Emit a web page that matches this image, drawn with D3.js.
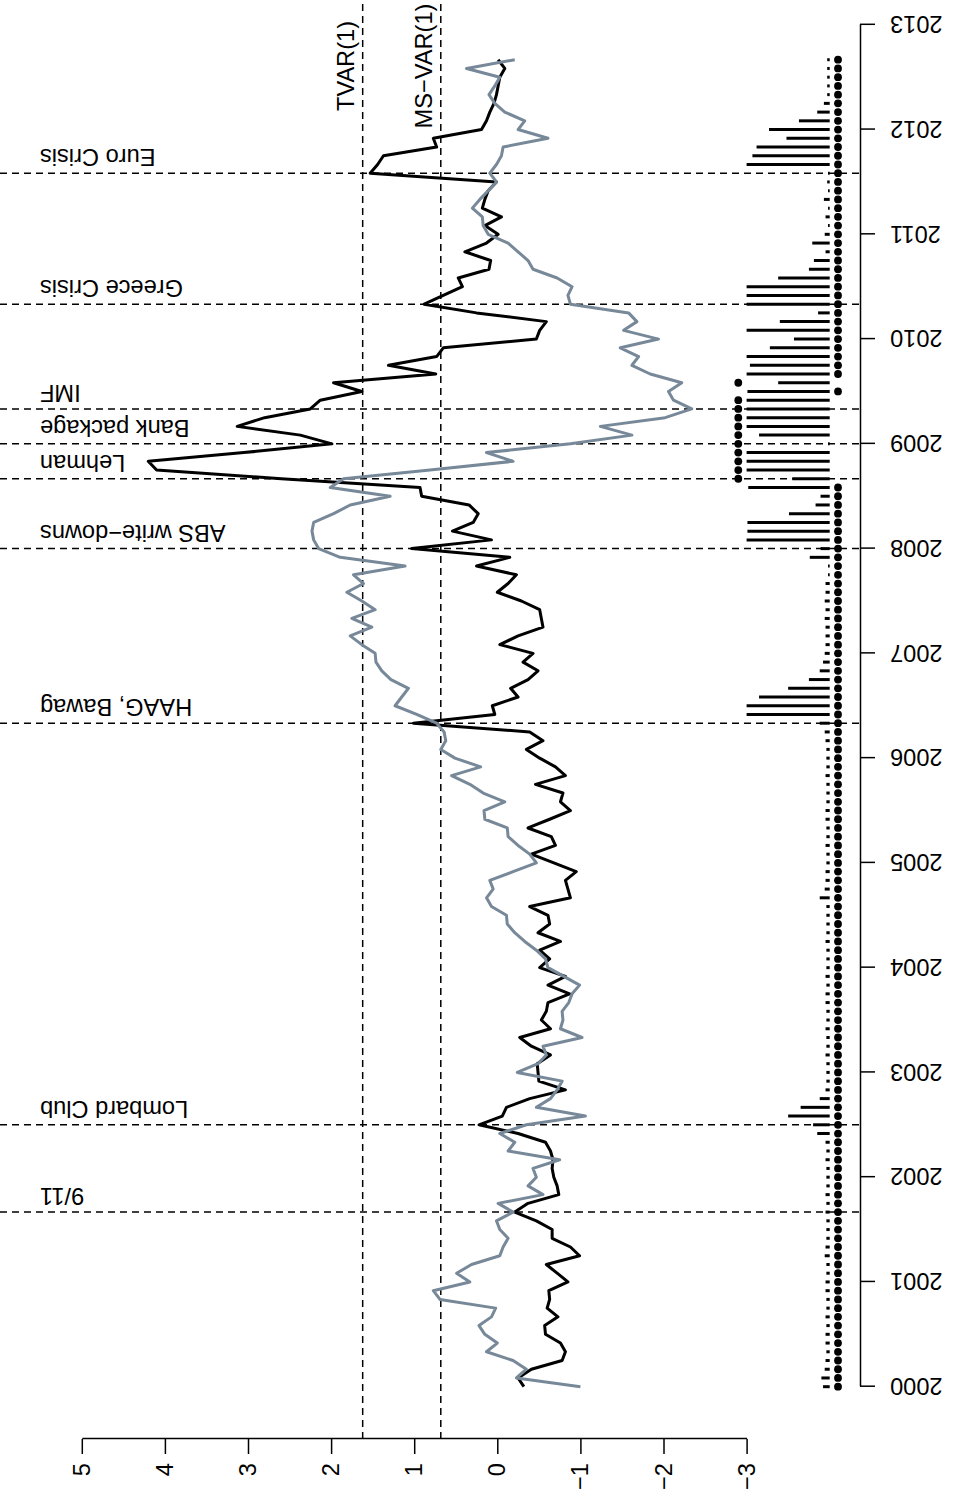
<!DOCTYPE html>
<html>
<head>
<meta charset="utf-8">
<script src="https://cdn.jsdelivr.net/npm/d3@7"></script>
<style>
  body { margin: 0; background: #fff; }
  svg text { font-family: "Liberation Sans", Arial, Helvetica, sans-serif; fill: #000; }
</style>
</head>
<body>
<svg id="chart" width="953" height="1498"></svg>
<script>
// Monthly series, January 2000 to September 2012
const startYear = 2000;

const tvar = [
  -0.32,-0.25,-0.41,-0.78,-0.82,-0.76,-0.58,-0.57,-0.73,-0.60,
  -0.63,-0.62,-0.85,-0.72,-0.59,-0.99,-0.88,-0.66,-0.66,-0.47,
  -0.21,-0.37,-0.74,-0.72,-0.68,-0.66,-0.67,-0.64,-0.58,-0.25,
   0.22,-0.06,-0.11,-0.39,-0.82,-0.50,-0.49,-0.48,-0.64,-0.41,
  -0.27,-0.64,-0.53,-0.59,-0.61,-0.87,-0.61,-0.82,-0.51,-0.63,
  -0.51,-0.76,-0.49,-0.63,-0.61,-0.39,-0.88,-0.85,-0.82,-0.95,
  -0.68,-0.41,-0.70,-0.65,-0.37,-0.63,-0.88,-0.76,-0.79,-0.46,
  -0.82,-0.70,-0.51,-0.35,-0.55,-0.39, 1.01, 0.03, 0.06,-0.25,
  -0.16,-0.37,-0.49,-0.31,-0.43,-0.03,-0.25,-0.55,-0.53,-0.51,
  -0.29, 0.00,-0.13,-0.23, 0.25,-0.15, 1.03, 0.07, 0.54, 0.29,
   0.23, 0.34, 0.91, 0.93, 2.60, 4.10, 4.20, 3.05, 1.99, 2.37,
   3.13, 2.80, 2.25, 2.13, 1.63, 1.97, 0.74, 1.31, 0.73, 0.65,
  -0.47,-0.51,-0.59, 0.25, 0.88, 0.65, 0.42, 0.47, 0.10, 0.08,
   0.39, 0.13,-0.01, 0.15,-0.05, 0.18, 0.15, 0.11, 0.01, 1.53,
   1.44, 1.37, 0.73, 0.77, 0.19, 0.13, 0.09, 0.04, 0.01,-0.01,
  -0.03,-0.09,-0.01
];

const msvar = [
  -1.00,-0.23,-0.35,-0.19, 0.13, 0.00, 0.15, 0.22, 0.07, 0.02,
   0.69, 0.77, 0.33, 0.49, 0.31,-0.03,-0.07,-0.13,-0.03, 0.01,
  -0.19,-0.01,-0.55,-0.37,-0.47,-0.43,-0.75,-0.13,-0.21,-0.03,
  -0.35,-1.06,-0.47,-0.64,-0.72,-0.78,-0.24,-0.49,-0.59,-0.55,
  -1.02,-0.76,-0.79,-0.78,-0.86,-0.90,-0.99,-0.80,-0.61,-0.58,
  -0.47,-0.33,-0.21,-0.12,-0.11, 0.07, 0.13, 0.05, 0.09,-0.19,
  -0.47,-0.39,-0.25,-0.13,-0.12, 0.15, 0.16,-0.09, 0.17, 0.33,
   0.55, 0.20, 0.51, 0.68, 0.62, 0.64, 0.73, 0.97, 1.23, 1.15,
   1.07, 1.28, 1.39, 1.46, 1.47, 1.63, 1.77, 1.51, 1.75, 1.47,
   1.63, 1.81, 1.61, 1.73, 1.11, 1.89, 2.15, 2.21, 2.23, 2.21,
   1.97, 1.77, 1.29, 2.01, 1.85, 0.81,-0.19, 0.13,-0.88,-1.62,
  -1.24,-2.02,-2.34,-2.12,-2.06,-2.22,-1.84,-1.62,-1.70,-1.48,
  -1.94,-1.52,-1.68,-1.58,-0.88,-0.85,-0.90,-0.72,-0.43,-0.37,
  -0.25,-0.13, 0.11, 0.17, 0.18, 0.30, 0.21, 0.11, 0.01, 0.09,
   0.01,-0.05,-0.07,-0.61,-0.25,-0.33,-0.09, 0.03, 0.10, 0.03,
  -0.03, 0.37,-0.21
];

// Probability of the crisis regime (drawn as spikes below the series)
const crisisProb = [
  0.08,0.10,0.06,0.05,0.04,0.05,0.05,0.04,0.05,0.04,
  0.04,0.05,0.05,0.04,0.04,0.06,0.05,0.04,0.04,0.04,
  0.05,0.04,0.05,0.04,0.04,0.04,0.05,0.04,0.05,0.15,
  0.20,0.50,0.35,0.12,0.05,0.04,0.04,0.04,0.05,0.04,
  0.04,0.05,0.04,0.04,0.05,0.05,0.04,0.05,0.04,0.04,
  0.04,0.05,0.04,0.04,0.04,0.04,0.12,0.06,0.05,0.05,
  0.04,0.04,0.05,0.04,0.04,0.05,0.05,0.04,0.04,0.04,
  0.05,0.04,0.04,0.04,0.05,0.06,0.12,1.00,1.00,0.85,
  0.50,0.25,0.12,0.08,0.06,0.05,0.05,0.05,0.06,0.05,
  0.06,0.05,0.05,0.02,0.02,0.24,0.11,1.00,0.99,0.99,
  0.49,0.17,0.11,0.98,0.45,1.00,1.00,1.00,0.02,0.85,
  1.00,1.00,1.00,1.00,0.99,0.62,1.00,0.96,1.00,0.72,
  0.43,1.00,0.60,0.14,1.00,1.00,1.00,0.62,0.25,0.19,
  0.05,0.21,0.06,0.02,0.05,0.02,0.07,0.02,0.03,0.02,
  1.00,0.93,0.88,0.52,0.73,0.37,0.15,0.07,0.03,0.03,
  0.03,0.03,0.03
];

// Classified regime per month (1 = crisis)
const regime = tvar.map((_, i) => ((i >= 104 && i <= 113) || i === 115) ? 1 : 0);

// Event markers (month index since January 2000)
const eventLabels = ["9/11", "Lombard Club", "HAAG, Bawag", "ABS write\u2212downs",
                     "Lehman", "Bank package", "IMF", "Greece Crisis", "Euro Crisis"];
const eventMonths = [20, 30, 76, 96, 104, 108, 112, 124, 139];

// Threshold lines
const thresholdLabels = ["TVAR(1)", "MS\u2212VAR(1)"];
const thresholdValues = [1.62, 0.68];

const yearTicks = d3.range(2000, 2014);
const valueTicks = d3.range(-3, 6);

// ---------------------------------------------------------------
// The chart is laid out landscape (time across, value up) and the
// whole drawing is turned a quarter turn counter-clockwise.
const W = 1498, H = 953;
const svg = d3.select("#chart");
const g = svg.append("g").attr("transform", `translate(0,${W}) rotate(-90)`);

const x = d3.scaleLinear().domain([2000, 2013]).range([111.3, 1473.2]);
const y = d3.scaleLinear().domain([-3, 5]).range([746.6, 81.8]);
const t = i => startYear + i / 12;

const fontSize = 23.6;
const dash = "7,5";

// threshold lines
g.selectAll("line.thr").data(thresholdValues).join("line")
  .attr("class", "thr")
  .attr("x1", 59).attr("x2", W)
  .attr("y1", d => y(d)).attr("y2", d => y(d))
  .attr("stroke", "#000").attr("stroke-width", 1.5).attr("stroke-dasharray", dash);

g.selectAll("text.thr").data(thresholdLabels).join("text")
  .attr("class", "thr")
  .attr("x", 1432).attr("y", (d, i) => y(thresholdValues[i]) - 9)
  .attr("text-anchor", "middle")
  .attr("font-size", fontSize)
  .text(d => d);

// event lines
g.selectAll("line.evt").data(eventMonths).join("line")
  .attr("class", "evt")
  .attr("x1", d => x(t(d))).attr("x2", d => x(t(d)))
  .attr("y1", 0).attr("y2", 860)
  .attr("stroke", "#000").attr("stroke-width", 1.5).attr("stroke-dasharray", dash);

g.selectAll("text.evt").data(eventLabels).join("text")
  .attr("class", "evt")
  .attr("transform", (d, i) => `translate(${x(t(eventMonths[i])) + 24},40) rotate(-90)`)
  .attr("text-anchor", "end")
  .attr("font-size", fontSize)
  .text(d => d);

// regime probability spikes and regime dots
g.selectAll("line.prob").data(crisisProb).join("line")
  .attr("class", "prob")
  .attr("x1", (d, i) => x(t(i))).attr("x2", (d, i) => x(t(i)))
  .attr("y1", y(-4)).attr("y2", d => y(-4 + d))
  .attr("stroke", "#000").attr("stroke-width", 3);

g.selectAll("circle.reg").data(regime).join("circle")
  .attr("class", "reg")
  .attr("cx", (d, i) => x(t(i)))
  .attr("cy", d => y(d ? -2.9 : -4.1))
  .attr("r", 3.9)
  .attr("fill", "#000");

// series
const line = d3.line().x((d, i) => x(t(i))).y(d => y(d));
g.append("path").datum(tvar)
  .attr("d", line).attr("fill", "none")
  .attr("stroke", "#000").attr("stroke-width", 3).attr("stroke-linejoin", "round");
g.append("path").datum(msvar)
  .attr("d", line).attr("fill", "none")
  .attr("stroke", "#778899").attr("stroke-width", 3).attr("stroke-linejoin", "round");

// time axis
const xAxis = g.append("g").attr("transform", "translate(0,860)")
  .call(d3.axisBottom(x).tickValues(yearTicks).tickFormat(d3.format("d"))
          .tickSize(15).tickSizeOuter(0));
xAxis.select(".domain").attr("stroke-width", 1.5);
xAxis.selectAll(".tick line").attr("stroke-width", 1.5);
xAxis.selectAll(".tick text")
  .attr("transform", "rotate(-90)")
  .attr("x", -30).attr("y", 0).attr("dy", "0.35em")
  .attr("text-anchor", "end")
  .attr("font-size", fontSize)
  .attr("font-family", null);

// value axis
const yAxis = g.append("g").attr("transform", "translate(59,0)")
  .call(d3.axisLeft(y).tickValues(valueTicks).tickSize(15).tickPadding(9)
          .tickSizeOuter(0));
yAxis.select(".domain").attr("stroke-width", 1.5);
yAxis.selectAll(".tick line").attr("stroke-width", 1.5);
yAxis.selectAll(".tick text")
  .attr("font-size", fontSize)
  .attr("font-family", null);
</script>
</body>
</html>
